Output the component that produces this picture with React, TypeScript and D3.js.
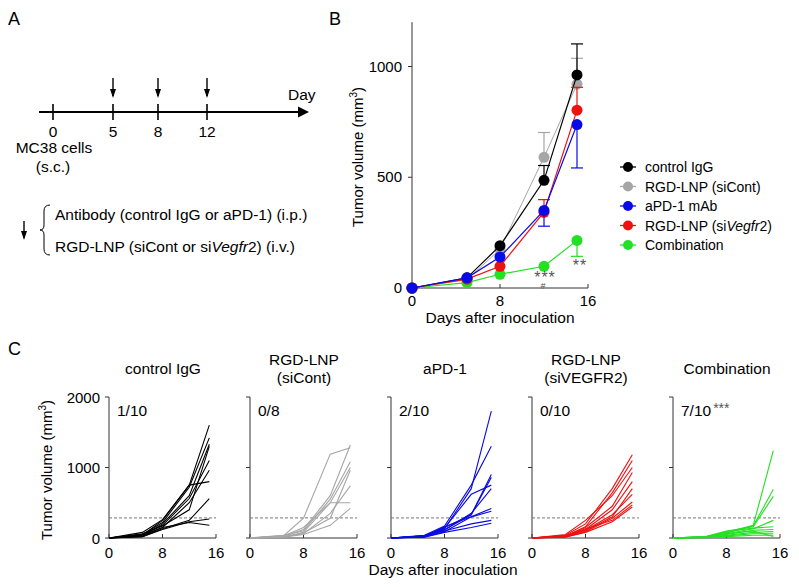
import React from 'react';
import * as d3 from 'd3';

const FONT = '"Liberation Sans", Arial, Helvetica, sans-serif';

// ---------- Panel A ----------
const timelineDays = [0, 5, 8, 12];
const doseDays = [5, 8, 12];

// ---------- Panel B (mean tumour volume) ----------
const days = [0, 5, 8, 12, 15];
const seriesNames = ['control IgG', 'RGD-LNP (siCont)', 'aPD-1 mAb', 'RGD-LNP (siVegfr2)', 'Combination'];
const seriesColors = ['#000000', '#a6a6a6', '#0a0ae6', '#f01010', '#22e022'];
const meanControlIgG = [0, 46, 191, 486, 962];
const meanSiCont = [0, 38, 175, 590, 920];
const meanAPD1 = [0, 46, 140, 350, 738];
const meanSiVegfr2 = [0, 40, 98, 342, 803];
const meanCombination = [0, 24, 62, 98, 215];
const errControlIgG = [0, 0, 0, 67, 140];
const errSiCont = [0, 0, 0, 112, 117];
const errAPD1 = [0, 0, 0, 71, 196];
const errSiVegfr2 = [0, 0, 0, 57, 103];
const errCombination = [0, 0, 0, 0, 72];
const errDirection = [1, 1, -1, 1, -1];
const yTicksB = [0, 500, 1000];
const xTicksB = [0, 8, 16];

// ---------- Panel C (individual mice) ----------
const miceControlIgG = [
  [0, 40, 250, 750, 1600],
  [0, 50, 220, 720, 1420],
  [0, 30, 200, 600, 1330],
  [0, 60, 180, 560, 1100],
  [0, 40, 150, 500, 960],
  [0, 80, 260, 750, 800],
  [0, 20, 130, 250, 560],
  [0, 30, 150, 220, 180],
  [0, 50, 170, 400, 1300],
  [0, 20, 120, 230, 270],
];
const miceSiCont = [
  [0, 30, 280, 1190, 1280],
  [0, 20, 120, 600, 1320],
  [0, 40, 100, 550, 1080],
  [0, 10, 80, 500, 1000],
  [0, 30, 150, 500, 500],
  [0, 20, 60, 350, 740],
  [0, 10, 50, 180, 420],
  [0, 15, 70, 280, 960],
];
const miceAPD1 = [
  [0, 30, 130, 700, 1800],
  [0, 40, 170, 750, 1300],
  [0, 20, 120, 330, 860],
  [0, 30, 140, 620, 750],
  [0, 25, 110, 350, 700],
  [0, 15, 90, 300, 420],
  [0, 20, 160, 300, 380],
  [0, 30, 100, 200, 250],
  [0, 10, 80, 150, 210],
  [0, 20, 150, 330, 900],
];
const miceSiVegfr2 = [
  [0, 40, 200, 700, 1180],
  [0, 30, 160, 640, 1100],
  [0, 50, 250, 600, 1000],
  [0, 20, 150, 450, 930],
  [0, 30, 120, 400, 800],
  [0, 20, 100, 300, 700],
  [0, 10, 90, 280, 510],
  [0, 25, 130, 250, 470],
  [0, 15, 80, 230, 440],
  [0, 20, 110, 330, 620],
];
const miceCombination = [
  [0, 20, 80, 180, 1240],
  [0, 15, 70, 170, 690],
  [0, 25, 100, 160, 590],
  [0, 10, 60, 130, 250],
  [0, 15, 90, 140, 160],
  [0, 20, 50, 110, 120],
  [0, 10, 40, 80, 90],
  [0, 5, 30, 60, 60],
  [0, 10, 20, 40, 40],
  [0, 15, 60, 100, 20],
];
const panelTitles = [['control IgG'], ['RGD-LNP', '(siCont)'], ['aPD-1'], ['RGD-LNP', '(siVEGFR2)'], ['Combination']];
const panelCounts = ['1/10', '0/8', '2/10', '0/10', '7/10'];
const panelStars = ['', '', '', '', '***'];
const thresholdC = 285;
const yTicksC = [0, 1000, 2000];
const xTicksC = [0, 8, 16];

const AXIS = '#333';

function PanelA() {
  const x = d3.scaleLinear().domain(timelineDays).range([53, 113, 158, 207]);
  const yLine = 112;
  return (
    <g fontFamily={FONT}>
      <text x={8} y={25} fontSize={18}>A</text>
      <line x1={39} x2={300} y1={yLine} y2={yLine} stroke="#000" strokeWidth={2} />
      <path d={`M298,${yLine - 5.5}L309,${yLine}L298,${yLine + 5.5}Z`} fill="#000" />
      <text x={288} y={100} fontSize={15.5}>Day</text>
      {timelineDays.map((d) => (
        <g key={d}>
          <line x1={x(d)} x2={x(d)} y1={104} y2={120} stroke="#000" strokeWidth={1.6} />
          <text x={x(d)} y={137} fontSize={15.5} textAnchor="middle">{d}</text>
        </g>
      ))}
      {doseDays.map((d) => (
        <g key={'a' + d}>
          <line x1={x(d)} x2={x(d)} y1={78} y2={96} stroke="#000" strokeWidth={1.4} />
          <path d={`M${x(d) - 3},${89}L${x(d)},${98}L${x(d) + 3},${89}Z`} fill="#000" />
        </g>
      ))}
      <text x={54} y={153} fontSize={15.5} textAnchor="middle">MC38 cells</text>
      <text x={53} y={172} fontSize={15.5} textAnchor="middle">(s.c.)</text>
      <line x1={24} x2={24} y1={221} y2={238} stroke="#000" strokeWidth={1.4} />
      <path d="M21,231L24,240L27,231Z" fill="#000" />
      <path d="M50,205 Q44,205 44,211 L44,225 Q44,230 40,230 Q44,230 44,235 L44,249 Q44,255 50,255" fill="none" stroke="#000" strokeWidth={1} />
      <text x={55} y={220} fontSize={15.5}>Antibody (control IgG or aPD-1) (i.p.)</text>
      <text x={55} y={252} fontSize={15.5}>
        RGD-LNP (siCont or si<tspan fontStyle="italic">Vegfr</tspan>2) (i.v.)
      </text>
    </g>
  );
}

function PanelB() {
  const x = d3.scaleLinear().domain([0, 16]).range([412, 588]);
  const y = d3.scaleLinear().domain([0, 1000]).range([288, 66.5]);
  const means = [meanControlIgG, meanSiCont, meanAPD1, meanSiVegfr2, meanCombination];
  const errs = [errControlIgG, errSiCont, errAPD1, errSiVegfr2, errCombination];
  const order = [1, 4, 0, 3, 2];
  const line = d3.line<number>().x((_, i) => x(days[i])).y((v) => y(v));
  return (
    <g fontFamily={FONT}>
      <text x={329} y={25} fontSize={18}>B</text>
      <line x1={x(0)} x2={x(0)} y1={y(1200)} y2={y(0)} stroke={AXIS} strokeWidth={1} />
      <line x1={x(0)} x2={x(16)} y1={y(0)} y2={y(0)} stroke={AXIS} strokeWidth={1} />
      {yTicksB.map((t) => (
        <g key={t}>
          <line x1={x(0) - 4} x2={x(0)} y1={y(t)} y2={y(t)} stroke={AXIS} />
          <text x={x(0) - 10} y={y(t) + 5} fontSize={15} textAnchor="end">{t}</text>
        </g>
      ))}
      {xTicksB.map((t) => (
        <g key={t}>
          <line x1={x(t)} x2={x(t)} y1={y(0)} y2={y(0) - 4} stroke={AXIS} />
          <text x={x(t)} y={y(0) + 18} fontSize={15} textAnchor="middle">{t}</text>
        </g>
      ))}
      <text x={500} y={323} fontSize={15.5} textAnchor="middle">Days after inoculation</text>
      <text transform={`translate(363,${157}) rotate(-90)`} fontSize={15} textAnchor="middle">
        Tumor volume (mm<tspan fontSize={10} dy={-6}>3</tspan><tspan dy={6}>)</tspan>
      </text>
      {order.map((s) => (
        <g key={s}>
          {means[s].map((m, i) =>
            errs[s][i] > 0 ? (
              <g key={i}>
                <line x1={x(days[i])} x2={x(days[i])} y1={y(m)} y2={y(m + errDirection[s] * errs[s][i])} stroke={seriesColors[s]} strokeWidth={1.2} />
                <line x1={x(days[i]) - 6} x2={x(days[i]) + 6} y1={y(m + errDirection[s] * errs[s][i])} y2={y(m + errDirection[s] * errs[s][i])} stroke={seriesColors[s]} strokeWidth={1.2} />
              </g>
            ) : null
          )}
          <path d={line(means[s]) || ''} fill="none" stroke={seriesColors[s]} strokeWidth={s === 1 ? 1 : 1.2} />
          {means[s].map((m, i) => (
            <circle key={i} cx={x(days[i])} cy={y(m)} r={5.5} fill={seriesColors[s]} />
          ))}
        </g>
      ))}
      <text x={545} y={283} fontSize={16} fill="#555" textAnchor="middle" letterSpacing={1}>***</text>
      <text x={543} y={289} fontSize={9} fill="#555" textAnchor="middle">#</text>
      <text x={580} y={271} fontSize={16} fill="#555" textAnchor="middle" letterSpacing={1}>**</text>
      {seriesNames.map((n, i) => {
        const yy = 167 + i * 19.5;
        return (
          <g key={n}>
            <line x1={620} x2={636} y1={yy} y2={yy} stroke={seriesColors[i]} strokeWidth={1.3} />
            <circle cx={628} cy={yy} r={5} fill={seriesColors[i]} />
            <text x={645} y={yy + 5} fontSize={14}>
              {i === 3 ? (
                <>RGD-LNP (si<tspan fontStyle="italic">Vegfr</tspan>2)</>
              ) : (
                n
              )}
            </text>
          </g>
        );
      })}
    </g>
  );
}

function PanelC() {
  const groups = [miceControlIgG, miceSiCont, miceAPD1, miceSiVegfr2, miceCombination];
  const y = d3.scaleLinear().domain([0, 2000]).range([538, 397]);
  return (
    <g fontFamily={FONT}>
      <text x={8} y={355} fontSize={18}>C</text>
      <text transform={`translate(52,470) rotate(-90)`} fontSize={15} textAnchor="middle">
        Tumor volume (mm<tspan fontSize={10} dy={-6}>3</tspan><tspan dy={6}>)</tspan>
      </text>
      <text x={443} y={575} fontSize={15.5} textAnchor="middle">Days after inoculation</text>
      {groups.map((mice, g) => {
        const x0 = 109 + g * 141;
        const x = d3.scaleLinear().domain([0, 16]).range([x0, x0 + 107]);
        const line = d3.line<number>().x((_, i) => x(days[i])).y((v) => y(v));
        const title = panelTitles[g];
        return (
          <g key={g}>
            {title.length === 1 ? (
              <text x={x0 + 54} y={374} fontSize={15.5} textAnchor="middle">{title[0]}</text>
            ) : (
              <>
                <text x={x0 + 54} y={365} fontSize={15.5} textAnchor="middle">{title[0]}</text>
                <text x={x0 + 54} y={383} fontSize={15.5} textAnchor="middle">{title[1]}</text>
              </>
            )}
            <line x1={x0} x2={x0} y1={y(2000)} y2={y(0)} stroke={AXIS} />
            <line x1={x0} x2={x(16)} y1={y(0)} y2={y(0)} stroke={AXIS} />
            {yTicksC.map((t) => (
              <g key={t}>
                <line x1={x0 - 4} x2={x0} y1={y(t)} y2={y(t)} stroke={AXIS} />
                {g === 0 ? (
                  <text x={x0 - 9} y={y(t) + 5.5} fontSize={15} textAnchor="end">{t}</text>
                ) : null}
              </g>
            ))}
            {xTicksC.map((t) => (
              <g key={t}>
                <line x1={x(t)} x2={x(t)} y1={y(0)} y2={y(0) - 4} stroke={AXIS} />
                <text x={x(t)} y={558} fontSize={15} textAnchor="middle">{t}</text>
              </g>
            ))}
            <line x1={x0} x2={x(16)} y1={y(thresholdC)} y2={y(thresholdC)} stroke="#777" strokeDasharray="3,2" strokeWidth={1} />
            {mice.map((m, i) => (
              <path key={i} d={line(m) || ''} fill="none" stroke={seriesColors[g]} strokeWidth={1.1} />
            ))}
            <text x={x0 + 8} y={416} fontSize={15.5}>
              {panelCounts[g]}
              {panelStars[g] ? (
                <tspan fill="#555" fontSize={14} dy={-3} dx={2}>{panelStars[g]}</tspan>
              ) : null}
            </text>
          </g>
        );
      })}
    </g>
  );
}

export default function App() {
  return (
    <svg
      width={799}
      height={587}
      viewBox="0 0 799 587"
      style={{ position: 'absolute', left: 0, top: 0, background: '#fff' }}
    >
      <rect width={799} height={587} fill="#fff" />
      <PanelA />
      <PanelB />
      <PanelC />
    </svg>
  );
}
